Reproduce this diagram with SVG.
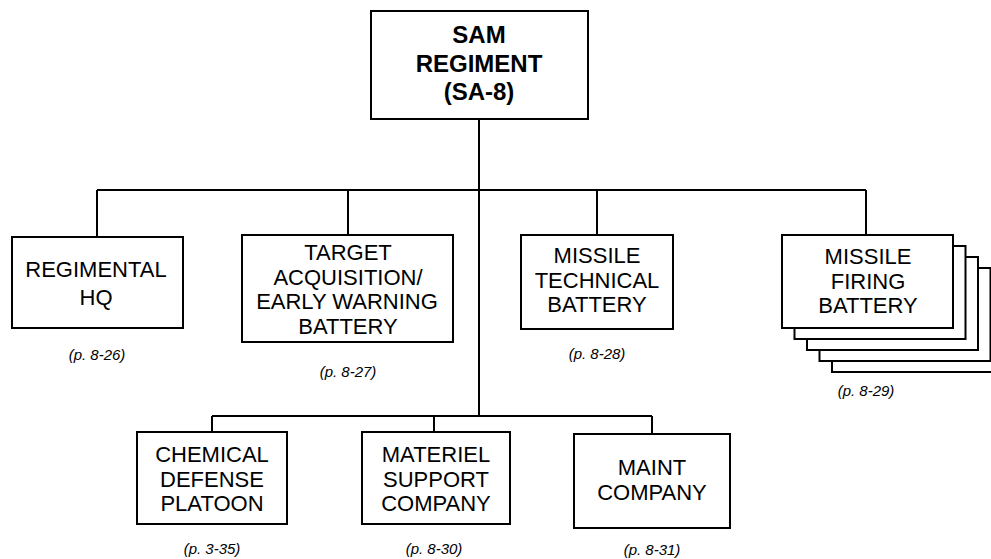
<svg xmlns="http://www.w3.org/2000/svg" width="991" height="559" viewBox="0 0 991 559">
<style>
.box{fill:#fff;stroke:#000;stroke-width:2}
.ln{fill:none;stroke:#000;stroke-width:2}
.t{font-family:"Liberation Sans",Arial,sans-serif;font-size:22px;text-anchor:middle;fill:#000}
.tb{font-family:"Liberation Sans",Arial,sans-serif;font-size:24px;font-weight:bold;text-anchor:middle;fill:#000}
.p{font-family:"Liberation Sans",Arial,sans-serif;font-size:15px;font-style:italic;text-anchor:middle;fill:#000}
</style>
<rect width="991" height="559" fill="#fff"/>
<g id="connectors">
<path class="ln" d="M479 119V416M97 190H866M97 190V237M348 190V235M597 190V235M866 190V235M212 416H652M212 416V432M434 416V432M652 416V434"/>
</g>
<g id="sam-regiment">
<rect class="box" x="371" y="11" width="217" height="108"/>
<text class="tb" x="479" y="43">SAM</text>
<text class="tb" x="479" y="72">REGIMENT</text>
<text class="tb" x="479" y="100">(SA-8)</text>
</g>
<g id="regimental-hq">
<rect class="box" x="12" y="237" width="171" height="91"/>
<text class="t" x="96" y="277">REGIMENTAL</text>
<text class="t" x="96" y="305">HQ</text>
<text class="p" x="97" y="360">(p. 8-26)</text>
</g>
<g id="target-acquisition">
<rect class="box" x="242" y="235" width="211" height="107"/>
<text class="t" x="348" y="260">TARGET</text>
<text class="t" x="348" y="284.5">ACQUISITION/</text>
<text class="t" x="347" y="309">EARLY WARNING</text>
<text class="t" x="348" y="333.5">BATTERY</text>
<text class="p" x="348" y="377">(p. 8-27)</text>
</g>
<g id="missile-technical">
<rect class="box" x="521" y="235" width="152" height="94"/>
<text class="t" x="597" y="263">MISSILE</text>
<text class="t" x="597" y="287.5">TECHNICAL</text>
<text class="t" x="597" y="312">BATTERY</text>
<text class="p" x="597" y="359">(p. 8-28)</text>
</g>
<g id="missile-firing">
<rect class="box" x="832" y="279" width="171" height="93"/>
<rect class="box" x="819.5" y="268" width="171" height="93"/>
<rect class="box" x="807" y="257" width="171" height="93"/>
<rect class="box" x="794.5" y="246" width="171" height="93"/>
<rect class="box" x="782" y="235" width="171" height="93"/>
<text class="t" x="868" y="264">MISSILE</text>
<text class="t" x="868" y="288.5">FIRING</text>
<text class="t" x="868" y="313">BATTERY</text>
<text class="p" x="866" y="396">(p. 8-29)</text>
</g>
<g id="chemical-defense">
<rect class="box" x="137" y="432" width="150" height="92"/>
<text class="t" x="212" y="462">CHEMICAL</text>
<text class="t" x="212" y="486.5">DEFENSE</text>
<text class="t" x="212" y="511">PLATOON</text>
<text class="p" x="212" y="554">(p. 3-35)</text>
</g>
<g id="materiel-support">
<rect class="box" x="362" y="432" width="148" height="92"/>
<text class="t" x="436" y="462">MATERIEL</text>
<text class="t" x="436" y="486.5">SUPPORT</text>
<text class="t" x="436" y="511">COMPANY</text>
<text class="p" x="434" y="554">(p. 8-30)</text>
</g>
<g id="maint-company">
<rect class="box" x="574" y="434" width="156" height="94"/>
<text class="t" x="652" y="475">MAINT</text>
<text class="t" x="652" y="500">COMPANY</text>
<text class="p" x="652" y="555">(p. 8-31)</text>
</g>
</svg>
